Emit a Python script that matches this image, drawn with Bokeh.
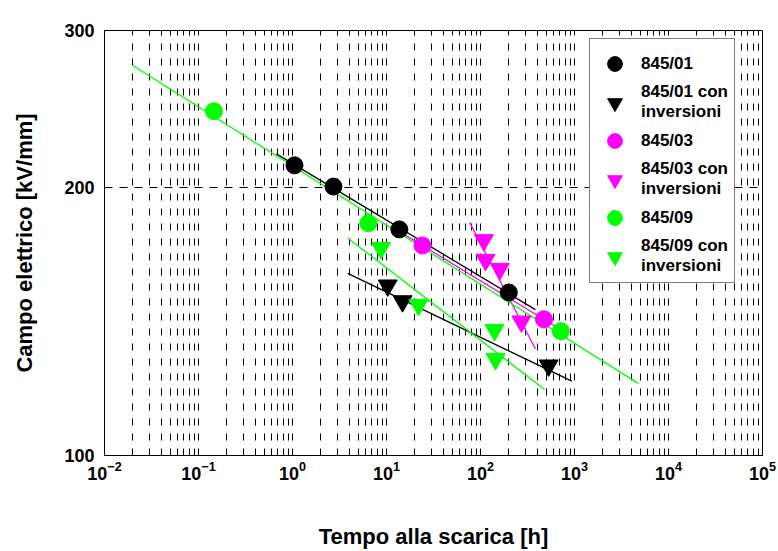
from bokeh.plotting import figure
from bokeh.models import FixedTicker, Legend, LegendItem, LogTickFormatter
from bokeh.embed import file_html
from bokeh.resources import INLINE

# ---- data (time to breakdown [h], electric field [kV/mm]) ----
t01 = [1.05, 2.73, 13.7, 200]
e01 = [211.7, 200.4, 179.4, 152.4]
t01i = [10.3, 14.8, 531]
e01i = [155.2, 149.0, 126.2]
t03 = [24.1, 473]
e03 = [172.1, 142.2]
t03i = [108.7, 113.2, 160.6, 272.5]
e03i = [174.5, 165.8, 162.0, 141.4]
t09 = [0.146, 6.41, 716]
e09 = [243.5, 182.3, 137.9]
t09i = [8.75, 21.9, 141, 144.5]
e09i = [171.0, 147.6, 138.3, 128.3]

# regression lines (end points)
fit01_t, fit01_e = [0.674, 384], [218.1, 145.8]
fit01i_t, fit01i_e = [3.87, 936], [160.1, 121.2]
fit03_t, fit03_e = [14.7, 764], [177.6, 137.9]
fit03i_t, fit03i_e = [76.6, 384], [182.7, 131.7]
fit09_t, fit09_e = [0.02, 4765], [274.0, 120.5]
fit09i_t, fit09i_e = [3.87, 481], [175.5, 118.6]

labels = ["845/01", "845/01 con\ninversioni", "845/03", "845/03 con\ninversioni",
          "845/09", "845/09 con\ninversioni"]
x_decades = [1e-2, 1e-1, 1e0, 1e1, 1e2, 1e3, 1e4, 1e5]
x_minor = [m * d for d in x_decades[:-1] for m in range(2, 10)]
y_ticks = [100, 200, 300]

BLACK, MAGENTA, GREEN = "#000000", "#ff00ff", "#00ff00"
FONT = "Liberation Sans"

p = figure(width=778, height=551, x_axis_type="log", y_axis_type="log",
           x_range=(1e-2, 1e5), y_range=(100, 300),
           output_backend="svg", toolbar_location=None,
           min_border_left=104, min_border_right=16, min_border_top=30,
           min_border_bottom=95)

p.outline_line_color = "black"
p.outline_line_width = 1
p.background_fill_color = "white"
p.border_fill_color = "white"

# axes
p.xaxis.ticker = FixedTicker(ticks=x_decades, minor_ticks=x_minor)
p.xaxis.formatter = LogTickFormatter()
p.yaxis.ticker = FixedTicker(ticks=y_ticks)
for ax in (p.xaxis[0], p.yaxis[0]):
    ax.major_tick_in = 0
    ax.major_tick_out = 0
    ax.minor_tick_in = 0
    ax.minor_tick_out = 0
    ax.axis_line_color = "black"
    ax.major_label_text_font = FONT
    ax.major_label_text_font_style = "bold"
    ax.major_label_text_font_size = "18px"
    ax.major_label_text_color = "black"
    ax.axis_label_text_font = FONT
    ax.axis_label_text_font_style = "bold"
    ax.axis_label_text_font_size = "22px"
    ax.axis_label_text_color = "black"

p.xaxis.axis_label = "Tempo alla scarica [h]"
p.yaxis.axis_label = "Campo elettrico [kV/mm]"
p.xaxis.major_label_standoff = 5
p.xaxis.axis_label_standoff = 41
p.yaxis.major_label_standoff = 10
p.yaxis.axis_label_standoff = 24

# grids
p.xgrid.grid_line_color = "black"
p.xgrid.grid_line_dash = "7 8"
p.xgrid.minor_grid_line_color = "black"
p.xgrid.minor_grid_line_dash = "7 8"
p.ygrid.ticker = FixedTicker(ticks=[200])
p.ygrid.grid_line_color = "black"
p.ygrid.grid_line_dash = "8 7"

# regression lines
p.line(fit01_t, fit01_e, color=BLACK, line_width=1.3)
p.line(fit01i_t, fit01i_e, color=BLACK, line_width=1.3)
p.line(fit03_t, fit03_e, color=MAGENTA, line_width=1.3)
p.line(fit03i_t, fit03i_e, color=MAGENTA, line_width=1.3)
p.line(fit09_t, fit09_e, color=GREEN, line_width=1.3)
p.line(fit09i_t, fit09i_e, color=GREEN, line_width=1.3)

# markers
r1 = p.scatter(t01, e01, marker="circle", size=17, color=BLACK)
r2 = p.scatter(t01i, e01i, marker="inverted_triangle", size=19, color=BLACK)
r3 = p.scatter(t03, e03, marker="circle", size=17, color=MAGENTA)
r4 = p.scatter(t03i, e03i, marker="inverted_triangle", size=19, color=MAGENTA)
r5 = p.scatter(t09, e09, marker="circle", size=17, color=GREEN)
r6 = p.scatter(t09i, e09i, marker="inverted_triangle", size=19, color=GREEN)

legend = Legend(items=[LegendItem(label=l, renderers=[r])
                       for l, r in zip(labels, [r1, r2, r3, r4, r5, r6])],
                location=(485, 172))
legend.label_text_font = FONT
legend.label_text_font_style = "bold"
legend.label_text_font_size = "17px"
legend.label_text_color = "black"
legend.label_text_line_height = 1.2
legend.label_standoff = 8
legend.glyph_width = 37
legend.glyph_height = 37
legend.label_height = 20
legend.spacing = 0
legend.padding = 6
legend.margin = 0
legend.border_line_color = "black"
legend.border_line_width = 1
legend.background_fill_color = "white"
legend.background_fill_alpha = 1.0
p.add_layout(legend)

open("out.html", "w").write(file_html(p, INLINE))
